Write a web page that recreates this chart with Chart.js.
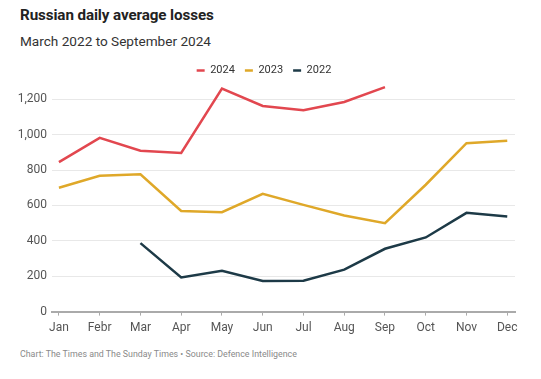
<!DOCTYPE html>
<html>
<head>
<meta charset="utf-8">
<script src="https://cdn.jsdelivr.net/npm/chart.js@4/dist/chart.umd.min.js"></script>
<style>
  html, body { margin: 0; padding: 0; background: #fff; }
  body { width: 541px; height: 379px; position: relative; overflow: hidden; font-family: Roboto, "Noto Sans", sans-serif; }
  #title { position: absolute; left: 20px; top: 6px; font-size: 15.2px; font-weight: 700; color: #222; letter-spacing: -0.1px; }
  #subtitle { position: absolute; left: 20px; top: 33px; font-size: 13.6px; color: #333; }
  #source { position: absolute; left: 20px; top: 348px; font-size: 9.5px; color: #8a8a8a; transform-origin: left top; transform: scaleX(0.93); white-space: nowrap; }
  #wrap { position: absolute; left: 0; top: 55px; width: 541px; height: 285px; }
</style>
</head>
<body>
<div id="title">Russian daily average losses</div>
<div id="subtitle">March 2022 to September 2024</div>
<div id="wrap"><canvas id="c"></canvas></div>
<div id="source">Chart: The Times and The Sunday Times • Source: Defence Intelligence</div>
<script>
const months = ["Jan","Febr","Mar","Apr","May","Jun","Jul","Aug","Sep","Oct","Nov","Dec"];
const seriesNames = ["2024","2023","2022"];
const values2024 = [845, 982, 909, 897, 1260, 1162, 1138, 1185, 1269, null, null, null];
const values2023 = [700, 768, 776, 569, 562, 666, 603, 543, 500, 717, 952, 965];
const values2022 = [null, null, 387, 193, 231, 173, 175, 237, 355, 419, 558, 537];
const yTicks = [0, 200, 400, 600, 800, 1000, 1200];
const colors = ["#e2474f", "#dfa829", "#1d3a47"];

function toPoints(arr) { return arr.map((v, i) => ({ x: i, y: v })); }

const ctx = document.getElementById('c');
new Chart(ctx, {
  type: 'line',
  data: {
    datasets: [values2024, values2023, values2022].map((vals, k) => ({
      label: seriesNames[k],
      data: toPoints(vals),
      borderColor: colors[k],
      backgroundColor: colors[k],
      borderWidth: 2.5,
      pointRadius: 0,
      pointHoverRadius: 0,
      tension: 0,
      spanGaps: false,
      clip: 4
    }))
  },
  options: {
    responsive: true,
    maintainAspectRatio: false,
    animation: false,
    layout: { padding: { left: 13, right: 26, top: 0, bottom: 0 } },
    plugins: {
      legend: {
        display: true,
        position: 'top',
        align: 'center',
        labels: {
          usePointStyle: true,
          pointStyle: 'line',
          pointStyleWidth: 8,
          boxWidth: 8,
          boxHeight: 11,
          color: '#333',
          font: { family: 'Roboto', size: 11 },
          padding: 10
        }
      },
      tooltip: { enabled: false }
    },
    scales: {
      x: {
        type: 'linear',
        min: -0.17,
        max: 11.19,
        afterBuildTicks: (scale) => { scale.ticks = months.map((_, i) => ({ value: i })); },
        ticks: {
          callback: (v) => months[v],
          color: '#555',
          font: { family: 'Roboto', size: 12 },
          padding: 5,
          maxRotation: 0,
          autoSkip: false
        },
        grid: { display: true, drawOnChartArea: false, drawTicks: true, tickLength: 4, color: '#aaa', lineWidth: 1 },
        border: { display: true, color: '#aaa', width: 2 }
      },
      y: {
        min: 0,
        max: 1275,
        afterBuildTicks: (scale) => { scale.ticks = yTicks.map(v => ({ value: v })); },
        afterFit: (scale) => { scale.width = 39; },
        ticks: {
          callback: (v) => v.toLocaleString('en-US'),
          color: '#555',
          font: { family: 'Roboto', size: 12 },
          padding: 5
        },
        grid: { color: '#e8e8e8', lineWidth: 1, drawTicks: false },
        border: { display: false }
      }
    }
  }
});
</script>
</body>
</html>
